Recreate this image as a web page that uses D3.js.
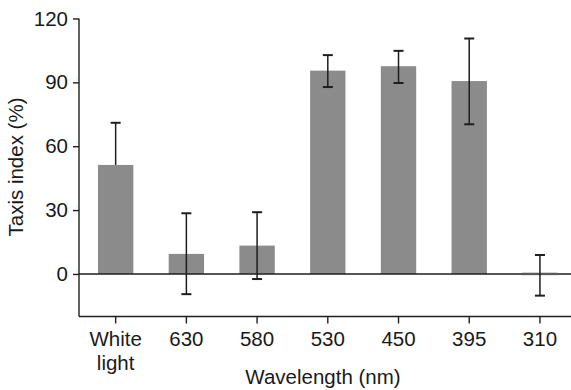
<!DOCTYPE html>
<html>
<head>
<meta charset="utf-8">
<script src="https://cdn.jsdelivr.net/npm/d3@7"></script>
<style>
  html, body { margin: 0; padding: 0; background: #fff; }
  svg { display: block; }
  text { font-family: "Liberation Sans", Arial, sans-serif; fill: #1a1a1a; }
</style>
</head>
<body>
<svg id="chart" width="571" height="390"></svg>
<script>
const categories = ["White light", "630", "580", "530", "450", "395", "310"];
const values     = [51.2, 9.4, 13.3, 95.5, 97.6, 90.6, 0];
const errHigh    = [71.0, 28.5, 29.0, 102.8, 104.8, 110.6, 8.9];
const errLow     = [51.2, -9.5, -2.4, 87.8, 89.7, 70.3, -10.2];
const yTicks     = [0, 30, 60, 90, 120];

(function () {
const svg = d3.select("#chart");
const W = 571;
const mLeft = 79, mTop = 18.5, mBottom = 316.5;
const fs = 20.5;

const x = d3.scaleBand().domain(categories).range([80.3, 575.3]).paddingInner(0.5).paddingOuter(0.25);
const y = d3.scaleLinear().domain([-20, 120]).range([mBottom, mTop]);

const ink = "#1e1e1e";
const barColor = "#8b8b8b";

// bars
svg.append("g").selectAll("rect")
  .data(categories)
  .join("rect")
  .attr("x", d => x(d))
  .attr("width", x.bandwidth())
  .attr("y", (d, i) => Math.min(y(values[i]), y(0)))
  .attr("height", (d, i) => Math.abs(y(0) - y(values[i])))
  .attr("fill", barColor);

// zero line
svg.append("line")
  .attr("x1", mLeft).attr("x2", W)
  .attr("y1", y(0)).attr("y2", y(0))
  .attr("stroke", ink).attr("stroke-width", 1.4);

// zero-height bar marker (310)
svg.append("g").selectAll("rect")
  .data(categories.filter((d, i) => values[i] === 0))
  .join("rect")
  .attr("x", d => x(d))
  .attr("width", x.bandwidth())
  .attr("y", y(0) - 1.2)
  .attr("height", 2.4)
  .attr("fill", "#5a5a5a");

// error bars
const eb = svg.append("g").attr("stroke", ink);
categories.forEach((c, i) => {
  const cx = x(c) + x.bandwidth() / 2;
  eb.append("line").attr("x1", cx).attr("x2", cx)
    .attr("y1", y(errLow[i])).attr("y2", y(errHigh[i]))
    .attr("stroke-width", 1.5);
  eb.append("line").attr("x1", cx - 5).attr("x2", cx + 5)
    .attr("y1", y(errHigh[i])).attr("y2", y(errHigh[i]))
    .attr("stroke-width", 2);
  if (errLow[i] !== values[i]) {
    eb.append("line").attr("x1", cx - 5).attr("x2", cx + 5)
      .attr("y1", y(errLow[i])).attr("y2", y(errLow[i]))
      .attr("stroke-width", 2);
  }
});

// y axis
const yAxis = svg.append("g").attr("transform", `translate(${mLeft},0)`)
  .call(d3.axisLeft(y).tickValues(yTicks).tickSize(6).tickPadding(5));
yAxis.select(".domain").attr("d", `M0,${mTop}V${mBottom}`).attr("stroke", ink).attr("stroke-width", 1.4);
yAxis.selectAll(".tick line").attr("stroke", ink).attr("stroke-width", 1.4);
yAxis.selectAll(".tick text").attr("font-size", fs).attr("fill", "#1a1a1a")
  .attr("font-family", "'Liberation Sans', Arial, sans-serif");

// x axis
const xAxis = svg.append("g").attr("transform", `translate(0,${mBottom})`)
  .call(d3.axisBottom(x).tickSize(7).tickPadding(6).tickFormat(() => ""));
xAxis.select(".domain").attr("d", `M${mLeft},0H${W}`).attr("stroke", ink).attr("stroke-width", 1.4);
xAxis.selectAll(".tick line").attr("stroke", ink).attr("stroke-width", 1.4);
xAxis.selectAll(".tick text").remove();

// x tick labels (multi-line)
const labelG = svg.append("g");
categories.forEach(c => {
  const cx = x(c) + x.bandwidth() / 2;
  const words = c.split(" ");
  const t = labelG.append("text")
    .attr("x", cx).attr("y", 346)
    .attr("text-anchor", "middle")
    .attr("font-size", fs);
  words.forEach((w, k) => {
    t.append("tspan").attr("x", cx).attr("dy", k === 0 ? 0 : 23.5).text(w);
  });
});

// axis titles
svg.append("text")
  .attr("x", 323).attr("y", 384)
  .attr("text-anchor", "middle")
  .attr("font-size", fs)
  .text("Wavelength (nm)");

svg.append("text")
  .attr("transform", `translate(23,167) rotate(-90)`)
  .attr("text-anchor", "middle")
  .attr("font-size", fs)
  .text("Taxis index (%)");
})();
</script>
</body>
</html>
